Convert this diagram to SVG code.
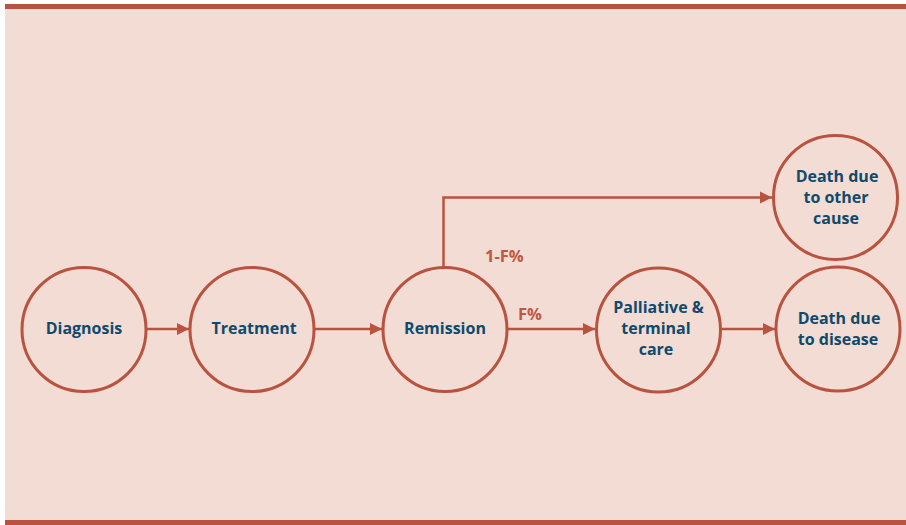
<svg xmlns="http://www.w3.org/2000/svg" width="906" height="525" viewBox="0 0 906 525">
<defs>
<style>
.node{fill:none;stroke:#b9533f;stroke-width:3}
.lbl{font-family:"Open Sans","Liberation Sans",sans-serif;font-weight:700;font-size:16px;fill:#0f4a6c;text-anchor:middle}
.edge{fill:none;stroke:#b9533f;stroke-width:2.5}
.elbl{font-family:"Open Sans","Liberation Sans",sans-serif;font-weight:700;font-size:16.5px;fill:#bf5843}
</style>
<marker id="ah" viewBox="0 0 10 10" refX="10" refY="5" markerWidth="5" markerHeight="5" markerUnits="strokeWidth" orient="auto">
<path d="M0,0 L10,5 L0,10 z" fill="#b9533f"/>
</marker>
</defs>
<rect x="0" y="0" width="906" height="525" fill="#ffffff"/>
<rect x="5" y="4" width="901" height="517" fill="#f2dcd4"/>
<rect x="5" y="4" width="901" height="5" fill="#b9533f"/>
<rect x="5" y="520" width="901" height="5" fill="#b9533f"/>
<g id="connectors">
<line class="edge" x1="146" y1="329" x2="189" y2="329" marker-end="url(#ah)"/>
<line class="edge" x1="314" y1="329" x2="382" y2="329" marker-end="url(#ah)"/>
<line class="edge" x1="507" y1="329" x2="595" y2="329" marker-end="url(#ah)"/>
<line class="edge" x1="721" y1="329" x2="775" y2="329" marker-end="url(#ah)"/>
<polyline class="edge" points="443.5,268 443.5,197.5 772,197.5" marker-end="url(#ah)"/>
<text class="elbl" x="485" y="262">1-F%</text>
<text class="elbl" x="518" y="320">F%</text>
</g>
<g id="diagnosis">
<circle class="node" cx="84" cy="329.5" r="62"/>
<text class="lbl" x="84" y="334">Diagnosis</text>
</g>
<g id="treatment">
<circle class="node" cx="252" cy="329.5" r="62"/>
<text class="lbl" x="254" y="334">Treatment</text>
</g>
<g id="remission">
<circle class="node" cx="445" cy="329.5" r="62"/>
<text class="lbl" x="445" y="334">Remission</text>
</g>
<g id="palliative">
<circle class="node" cx="658.5" cy="330" r="62"/>
<text class="lbl" x="658.5" y="313">Palliative &amp;</text>
<text class="lbl" x="656" y="334">terminal</text>
<text class="lbl" x="656" y="355">care</text>
</g>
<g id="death-disease">
<circle class="node" cx="838" cy="329" r="62"/>
<text class="lbl" x="839" y="324">Death due</text>
<text class="lbl" x="838" y="345">to disease</text>
</g>
<g id="death-other">
<circle class="node" cx="835.5" cy="197.5" r="62"/>
<text class="lbl" x="837" y="182">Death due</text>
<text class="lbl" x="836" y="203">to other</text>
<text class="lbl" x="836" y="224">cause</text>
</g>
</svg>
